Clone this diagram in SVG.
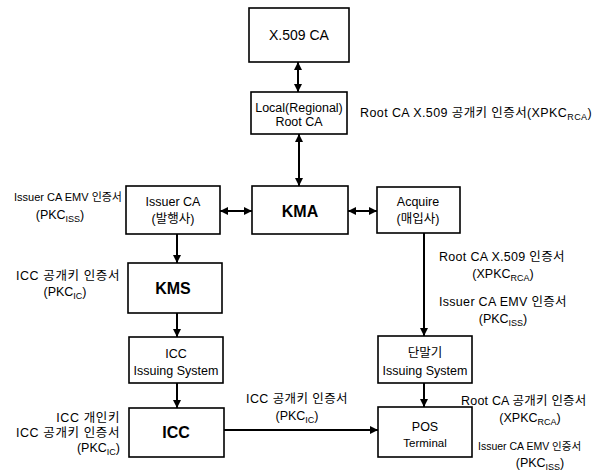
<svg xmlns="http://www.w3.org/2000/svg" width="599" height="472" viewBox="0 0 599 472">
<style>
.box{fill:#fff;stroke:#000;stroke-width:1.6}
.ln{stroke:#000;stroke-width:2;fill:none}
text{font-family:"Liberation Sans","Noto Sans CJK KR",sans-serif;fill:#000}
.bl{font-size:12.5px;text-anchor:middle}
.big{font-size:16px;text-anchor:middle;font-weight:bold}
.an{font-size:12.5px}
.sub{font-size:9px}
</style>
<defs>
<marker id="ah" viewBox="0 0 10 10" refX="10" refY="5" markerWidth="4" markerHeight="4" orient="auto-start-reverse" markerUnits="strokeWidth">
<path d="M0,0 L10,5 L0,10 z" fill="#000"/>
</marker>
</defs>
<rect width="599" height="472" fill="#fff"/>
<g id="connectors">
<line class="ln" x1="298" y1="62" x2="298" y2="92" marker-start="url(#ah)" marker-end="url(#ah)"/>
<line class="ln" x1="299" y1="134" x2="299" y2="186" marker-start="url(#ah)" marker-end="url(#ah)"/>
<line class="ln" x1="220" y1="211" x2="252" y2="211" marker-start="url(#ah)" marker-end="url(#ah)"/>
<line class="ln" x1="348" y1="211" x2="377" y2="211" marker-start="url(#ah)" marker-end="url(#ah)"/>
<line class="ln" x1="177" y1="234" x2="177" y2="263" marker-end="url(#ah)"/>
<line class="ln" x1="177" y1="313" x2="177" y2="337" marker-end="url(#ah)"/>
<line class="ln" x1="177" y1="383" x2="177" y2="408" marker-end="url(#ah)"/>
<line class="ln" x1="424" y1="233" x2="424" y2="336" marker-end="url(#ah)"/>
<line class="ln" x1="424" y1="383" x2="424" y2="407" marker-end="url(#ah)"/>
<line class="ln" x1="224" y1="430" x2="378" y2="430" marker-end="url(#ah)"/>
</g>
<g id="x509ca"><rect class="box" x="249" y="8" width="100" height="54"/><text class="bl" x="299" y="40" style="font-size:14px">X.509 CA</text></g>
<g id="localroot"><rect class="box" x="251" y="92" width="96" height="42"/><text class="bl" x="299" y="112">Local(Regional)</text><text class="bl" x="299" y="126">Root CA</text></g>
<g id="issuerca"><rect class="box" x="126" y="186" width="94" height="48"/><text class="bl" x="173" y="206">Issuer CA</text><text class="bl" x="173" y="223">(발행사)</text></g>
<g id="kma"><rect class="box" x="252" y="186" width="96" height="48"/><text class="big" x="300" y="217">KMA</text></g>
<g id="acquire"><rect class="box" x="377" y="187" width="83" height="46"/><text class="bl" x="418" y="206">Acquire</text><text class="bl" x="418" y="223">(매입사)</text></g>
<g id="kms"><rect class="box" x="128" y="263" width="94" height="50"/><text class="big" x="173" y="294">KMS</text></g>
<g id="iccissuing"><rect class="box" x="129" y="337" width="94" height="46"/><text class="bl" x="176" y="358">ICC</text><text class="bl" x="176" y="375">Issuing System</text></g>
<g id="icc"><rect class="box" x="129" y="408" width="95" height="49"/><text class="big" x="176" y="438">ICC</text></g>
<g id="termissuing"><rect class="box" x="378" y="336" width="94" height="47"/><text class="bl" x="425" y="357">단말기</text><text class="bl" x="425" y="375">Issuing System</text></g>
<g id="pos"><rect class="box" x="378" y="407" width="94" height="50"/><text class="bl" x="425" y="431">POS</text><text class="bl" x="425" y="447" style="font-size:11.5px">Terminal</text></g>
<g id="labels">
<text class="an" x="360" y="117" letter-spacing="0.4">Root CA X.509 공개키 인증서(XPKC<tspan class="sub" dy="3">RCA</tspan><tspan dy="-3">)</tspan></text>
<text class="an" x="122" y="201" text-anchor="end" style="font-size:11px">Issuer CA EMV 인증서</text>
<text class="an" x="60" y="219" text-anchor="middle">(PKC<tspan class="sub" dy="3">ISS</tspan><tspan dy="-3">)</tspan></text>
<text class="an" x="120" y="280" text-anchor="end" letter-spacing="0.6">ICC 공개키 인증서</text>
<text class="an" x="65" y="296" text-anchor="middle">(PKC<tspan class="sub" dy="3">IC</tspan><tspan dy="-3">)</tspan></text>
<text class="an" x="439" y="261" letter-spacing="0.3">Root CA X.509 인증서</text>
<text class="an" x="503" y="278" text-anchor="middle">(XPKC<tspan class="sub" dy="3">RCA</tspan><tspan dy="-3">)</tspan></text>
<text class="an" x="439" y="306" letter-spacing="0.3">Issuer CA EMV 인증서</text>
<text class="an" x="503" y="323" text-anchor="middle">(PKC<tspan class="sub" dy="3">ISS</tspan><tspan dy="-3">)</tspan></text>
<text class="an" x="120" y="422" text-anchor="end" letter-spacing="0.6">ICC 개인키</text>
<text class="an" x="120" y="437" text-anchor="end" letter-spacing="0.6">ICC 공개키 인증서</text>
<text class="an" x="120" y="452" text-anchor="end">(PKC<tspan class="sub" dy="3">IC</tspan><tspan dy="-3">)</tspan></text>
<text class="an" x="297" y="403" text-anchor="middle" letter-spacing="0.4">ICC 공개키 인증서</text>
<text class="an" x="297" y="420" text-anchor="middle">(PKC<tspan class="sub" dy="3">IC</tspan><tspan dy="-3">)</tspan></text>
<text class="an" x="461" y="405" letter-spacing="0.2">Root CA  공개키 인증서</text>
<text class="an" x="530" y="422" text-anchor="middle">(XPKC<tspan class="sub" dy="3">RCA</tspan><tspan dy="-3">)</tspan></text>
<text class="an" x="478" y="450" style="font-size:10.5px">Issuer CA EMV  인증서</text>
<text class="an" x="540" y="467" text-anchor="middle">(PKC<tspan class="sub" dy="3">ISS</tspan><tspan dy="-3">)</tspan></text>
</g>
</svg>
